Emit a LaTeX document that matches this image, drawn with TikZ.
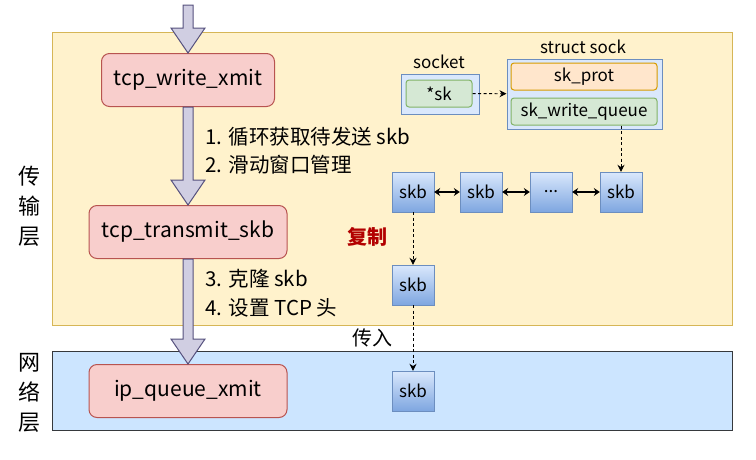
\documentclass[tikz,border=0pt]{standalone}
\usepackage{fontspec}
\setmainfont{Noto Sans CJK SC}
\usetikzlibrary{calc,positioning,arrows.meta,shapes}
\definecolor{tlfill}{HTML}{FFF2CC}
\definecolor{tlline}{HTML}{D6B656}
\definecolor{nlfill}{HTML}{CCE5FF}
\definecolor{nlline}{HTML}{36393D}
\definecolor{funcfill}{HTML}{F8CECC}
\definecolor{funcline}{HTML}{B85450}
\definecolor{fatfill}{HTML}{D0CEE2}
\definecolor{fatline}{HTML}{56517E}
\definecolor{skbtop}{HTML}{DAE8FC}
\definecolor{skbbot}{HTML}{7EA6E0}
\definecolor{skbline}{HTML}{6C8EBF}
\definecolor{grfill}{HTML}{D5E8D4}
\definecolor{grline}{HTML}{82B366}
\definecolor{orfill}{HTML}{FFE6CC}
\definecolor{orline}{HTML}{D79B00}
\definecolor{cpred}{HTML}{B20000}
\newcommand{\fatarrow}[2]{%
	\draw[fatarr] ($(#1)+(-5,0)$) -- ($(#2)+(-5,-25)$) -- ($(#2)+(-17,-25)$) -- (#2)
	-- ($(#2)+(17,-25)$) -- ($(#2)+(5,-25)$) -- ($(#1)+(5,0)$) -- cycle;}

\begin{document}
\begin{tikzpicture}[x=1pt,y=-1pt,
		layer/.style={draw,line width=1pt,minimum width=680pt,inner sep=0pt},
		func/.style={draw=funcline,fill=funcfill,line width=1pt,rounded corners=8pt,minimum height=53pt,inner sep=0pt,font=\fontsize{21}{21}\selectfont},
		fatarr/.style={draw=fatline,fill=fatfill,line width=1pt,line join=miter},
		skbbox/.style={draw=skbline,top color=skbtop,bottom color=skbbot,minimum width=42pt,minimum height=40pt,inner sep=0pt,font=\fontsize{17}{17}\selectfont},
		field/.style={line width=1pt,rounded corners=3pt,minimum height=27pt,inner sep=0pt,font=\fontsize{17}{17}\selectfont},
		dasharr/.style={-{Stealth[length=7pt,width=7pt]},dash pattern=on 3pt off 2.5pt,line width=0.9pt},
		dblarr/.style={{Stealth[length=6pt,width=8pt]}-{Stealth[length=6pt,width=8pt]},line width=1.4pt},
		lbl/.style={anchor=west,font=\fontsize{20.5}{20.5}\selectfont},
		side/.style={align=center,font=\fontsize{22}{30}\selectfont}]
		\useasboundingbox (0,0) rectangle (756,459);
		% layers
		\node[layer,draw=tlline,fill=tlfill,minimum height=293pt] (tl) at (392,178.5) {};
		\node[layer,draw=nlline,fill=nlfill,minimum height=79pt] (nl) at (392,390.5) {};
		\node[side] (tln) at (30,206) {传\\输\\层};
		\node[side] (nln) at (30,393) {网\\络\\层};
		% call chain
		\coordinate (in) at (188,5);
		\node[func,minimum width=173pt] (write) at (188,80) {tcp\_write\_xmit};
		\node[func,minimum width=198pt] (trans) at (188,232) {tcp\_transmit\_skb};
		\node[func,minimum width=198pt] (ipq) at (188,391) {ip\_queue\_xmit};
		\fatarrow{in}{write.north}
		\fatarrow{write.south}{trans.north}
		\fatarrow{trans.south}{ipq.north}
		\node[lbl] (s1) at (202,137) {1. 循环获取待发送 skb};
		\node[lbl] (s2) at (202,165) {2. 滑动窗口管理};
		\node[lbl] (s3) at (202,279) {3. 克隆 skb};
		\node[lbl] (s4) at (202,308) {4. 设置 TCP 头};
		% socket and sock
		\node[draw=skbline,fill=skbtop,line width=1pt,minimum width=78pt,minimum height=40pt] (sock) at (440,94) {};
		\node[field,draw=grline,fill=grfill,minimum width=66pt] (sk) at (439,93.5) {*sk};
		\node[font=\fontsize{17}{17}\selectfont] (sockn) at (439,62) {socket};
		\node[draw=skbline,fill=skbtop,line width=1pt,minimum width=155pt,minimum height=70pt] (ssock) at (584.5,94) {};
		\node[field,draw=orline,fill=orfill,minimum width=146pt] (prot) at (584,76.5) {sk\_prot};
		\node[field,draw=grline,fill=grfill,minimum width=146pt] (wq) at (584,111.5) {sk\_write\_queue};
		\node[font=\fontsize{17}{17}\selectfont] (ssockn) at (583,47) {struct sock};
		% skb queue
		\node[skbbox] (q1) at (413,192) {skb};
		\node[skbbox] (q2) at (481,192) {skb};
		\node[skbbox] (q3) at (551,192) {...};
		\node[skbbox] (q4) at (621,192) {skb};
		\node[skbbox] (cp) at (413,285) {skb};
		\node[skbbox] (nq) at (413,391) {skb};
		\draw[dasharr] (sk) -- (ssock);
		\draw[dasharr] (wq.south -| q4.north) -- (q4);
		\draw[dblarr] (q1) -- (q2);
		\draw[dblarr] (q2) -- (q3);
		\draw[dblarr] (q3) -- (q4);
		\draw[dasharr] (q1) -- (cp);
		\draw[dasharr] (cp) -- (nq);
		\node[text=cpred,font=\fontsize{20}{20}\selectfont\bfseries] (cpn) at (367,237) {复制};
		\node[font=\fontsize{20}{20}\selectfont] (inn) at (372,338) {传入};
	\end{tikzpicture}
\end{document}
